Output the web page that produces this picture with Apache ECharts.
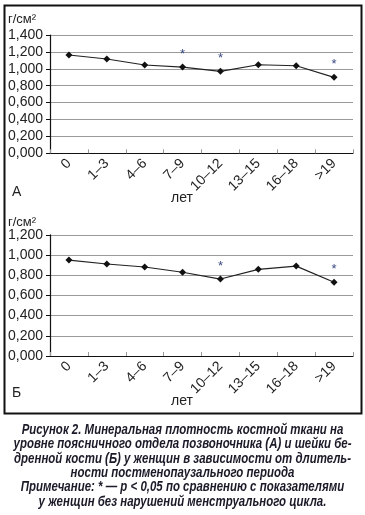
<!DOCTYPE html>
<html>
<head>
<meta charset="utf-8">
<script src="https://cdn.jsdelivr.net/npm/echarts@6/dist/echarts.min.js"></script>
<style>
html,body{margin:0;padding:0;background:#fff;}
#c{width:365px;height:515px;}
</style>
</head>
<body>
<div id="c"></div>
<script>
const categories = ['0', '1–3', '4–6', '7–9', '10–12', '13–15', '16–18', '>19'];
const valuesA = [1.163, 1.116, 1.045, 1.020, 0.970, 1.048, 1.036, 0.899];
const valuesB = [0.950, 0.911, 0.881, 0.829, 0.762, 0.858, 0.890, 0.730];
const sigA = [0, 0, 0, 1, 1, 0, 0, 1];
const sigB = [0, 0, 0, 0, 1, 0, 0, 1];
const yTicksA = [0, 0.2, 0.4, 0.6, 0.8, 1.0, 1.2, 1.4];
const yTicksB = [0, 0.2, 0.4, 0.6, 0.8, 1.0, 1.2];
const unitLabel = 'г/см²';
const xName = 'лет';
const panelA = 'А';
const panelB = 'Б';
const captionLines = [
  'Рисунок 2. Минеральная плотность костной ткани на',
  'уровне поясничного отдела позвоночника (А) и шейки бе-',
  'дренной кости (Б) у женщин в зависимости от длитель-',
  'ности постменопаузального периода',
  'Примечание: * — p < 0,05 по сравнению с показателями',
  'у женщин без нарушений менструального цикла.'
];

const FONT = "'Liberation Sans', Arial, sans-serif";
const CAPFONT = "'Liberation Sans', Arial, sans-serif";
const CAPSIZE = 14.5;
const chart = echarts.init(document.getElementById('c'), null, {renderer: 'canvas'});

function fmt(v) { return v.toFixed(3).replace('.', ','); }

function xAxis(idx) {
  return {
    type: 'category', gridIndex: idx, data: categories,
    boundaryGap: true,
    axisLine: {lineStyle: {color: '#111', width: 1.2}},
    axisTick: {show: true, inside: true, length: 4, lineStyle: {color: '#999'}},
    axisLabel: {rotate: 45, fontSize: 14, fontFamily: FONT, color: '#222', margin: 8, interval: 0},
    splitLine: {show: false}
  };
}
function yAxis(idx, ticks) {
  return {
    type: 'value', gridIndex: idx, min: 0, max: ticks[ticks.length - 1], interval: 0.2,
    axisLine: {show: true, lineStyle: {color: '#111', width: 1.2}},
    axisTick: {show: true, length: 4, lineStyle: {color: '#111'}},
    axisLabel: {fontSize: 14, fontFamily: FONT, color: '#222', margin: 7, formatter: fmt},
    splitLine: {lineStyle: {color: '#999', width: 1}}
  };
}
function lineSeries(idx, vals, sig) {
  return {
    type: 'line', xAxisIndex: idx, yAxisIndex: idx, data: vals,
    symbol: 'diamond', symbolSize: 7,
    lineStyle: {color: '#222', width: 1.2},
    itemStyle: {color: '#111'},
    label: {
      show: true, position: 'top', distance: 3,
      formatter: p => sig[p.dataIndex] ? '*' : '',
      color: '#3a4a80', fontSize: 13, fontFamily: FONT
    },
    animation: false
  };
}

const txt = (x, y, text, size, extra) => Object.assign({
  type: 'text', x: x, y: y,
  style: Object.assign({text: text, fontSize: size, fontFamily: FONT, fill: '#222'}, extra || {})
});

// horizontal condensation of caption (to mimic a condensed typeface)
const mctx = document.createElement('canvas').getContext('2d');
mctx.font = 'italic bold ' + CAPSIZE + 'px ' + CAPFONT;
const capScale = 338 / mctx.measureText(captionLines[1]).width;

const graphics = [
  {type: 'rect', shape: {x: 4.5, y: 5.5, width: 357, height: 408}, style: {fill: 'none', stroke: '#111', lineWidth: 2}},
  txt(8, 13, unitLabel, 13),
  txt(12, 185, panelA, 14),
  txt(171, 191, xName, 14),
  txt(8, 216, unitLabel, 13),
  txt(12, 386, panelB, 14),
  txt(171, 394, xName, 14)
];
captionLines.forEach((l, i) => {
  graphics.push({
    type: 'text', x: 182.5, y: 430 + i * 14.3, scaleX: capScale,
    style: {text: l, fontSize: CAPSIZE, fontFamily: CAPFONT, fontWeight: 'bold', fontStyle: 'italic',
      fill: '#1a1a28', textAlign: 'center', textVerticalAlign: 'middle'}
  });
});

chart.setOption({
  animation: false,
  grid: [
    {left: 50, right: 12, top: 35, height: 118.3},
    {left: 50, right: 12, top: 234.8, height: 121.2}
  ],
  xAxis: [xAxis(0), xAxis(1)],
  yAxis: [yAxis(0, yTicksA), yAxis(1, yTicksB)],
  series: [lineSeries(0, valuesA, sigA), lineSeries(1, valuesB, sigB)],
  graphic: graphics
});
</script>
</body>
</html>
